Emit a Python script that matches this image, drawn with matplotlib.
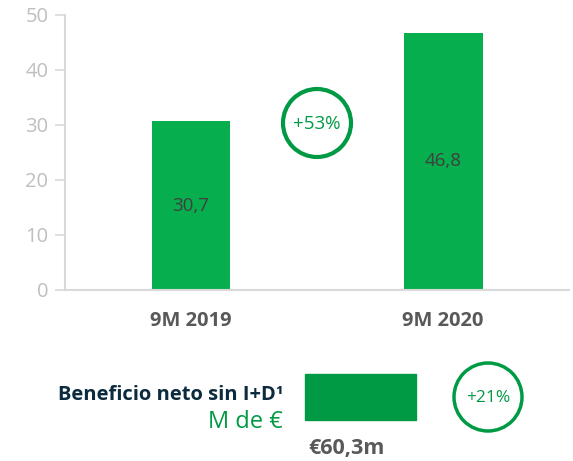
import matplotlib.pyplot as plt
from matplotlib.patches import Circle, Rectangle

# net profit excluding R&D, millions of euros
periods = ["9M 2019", "9M 2020"]
profit = [30.7, 46.8]
growth_label = "+53%"

summary_title = "Beneficio neto sin I+D¹"
summary_unit = "M de €"
summary_value = "€60,3m"
summary_growth = "+21%"

BAR_GREEN = "#07ae4d"
DARK_GREEN = "#009a44"
GRAY_TEXT = "#595959"
AXIS_GRAY = "#d9d9d9"

plt.rcParams['font.family'] = ['Open Sans', 'DejaVu Sans']

fig = plt.figure(figsize=(5.73, 4.61), dpi=100)
ax = fig.add_axes([0.1134, 0.371, 0.880, 0.5965])

x = range(len(periods))
bars = ax.bar(x, profit, width=0.313, color=BAR_GREEN, zorder=2)
for b, v in zip(bars, profit):
    ax.text(b.get_x() + b.get_width() / 2, v / 2, f"{v:.1f}".replace(".", ","),
            ha="center", va="center", fontsize=13.5, color="#404040")

ax.set_xlim(-0.5, 1.5)
ax.set_ylim(0, 50)
ax.set_yticks(range(0, 51, 10))
ax.set_xticks(list(x))
ax.set_xticklabels(periods, fontsize=14.5, fontweight="bold", color=GRAY_TEXT)
ax.tick_params(axis="x", length=0, pad=15)
ax.tick_params(axis="y", colors=AXIS_GRAY, labelcolor="#bfbfbf",
               labelsize=14.5, length=7, width=1.2, pad=5)
for s in ["top", "right"]:
    ax.spines[s].set_visible(False)
for s in ["left", "bottom"]:
    ax.spines[s].set_color(AXIS_GRAY)
    ax.spines[s].set_linewidth(1.5)

# overlay in pixel coordinates for the growth badges and summary row
ov = fig.add_axes([0, 0, 1, 1], zorder=5)
ov.set_xlim(0, 573)
ov.set_ylim(461, 0)
ov.axis("off")

ov.add_patch(Circle((317, 123), 34, fill=False, edgecolor=DARK_GREEN, lw=3))
ov.text(317, 124, growth_label, ha="center", va="center", fontsize=13.5, color=DARK_GREEN)

ov.text(283, 395, summary_title, ha="right", va="center", fontsize=14.5,
        fontweight="bold", color="#0d2b3e")
ov.text(283, 422, summary_unit, ha="right", va="center", fontsize=17, color=DARK_GREEN)
ov.add_patch(Rectangle((305, 374), 111, 46, color=DARK_GREEN))
ov.text(346, 448, summary_value, ha="center", va="center", fontsize=15.5,
        fontweight="bold", color=GRAY_TEXT)

ov.add_patch(Circle((488, 397), 34, fill=False, edgecolor=DARK_GREEN, lw=2.5))
ov.text(488, 398, summary_growth, ha="center", va="center", fontsize=12.5, color=DARK_GREEN)

fig.savefig("out.png", dpi=100)
